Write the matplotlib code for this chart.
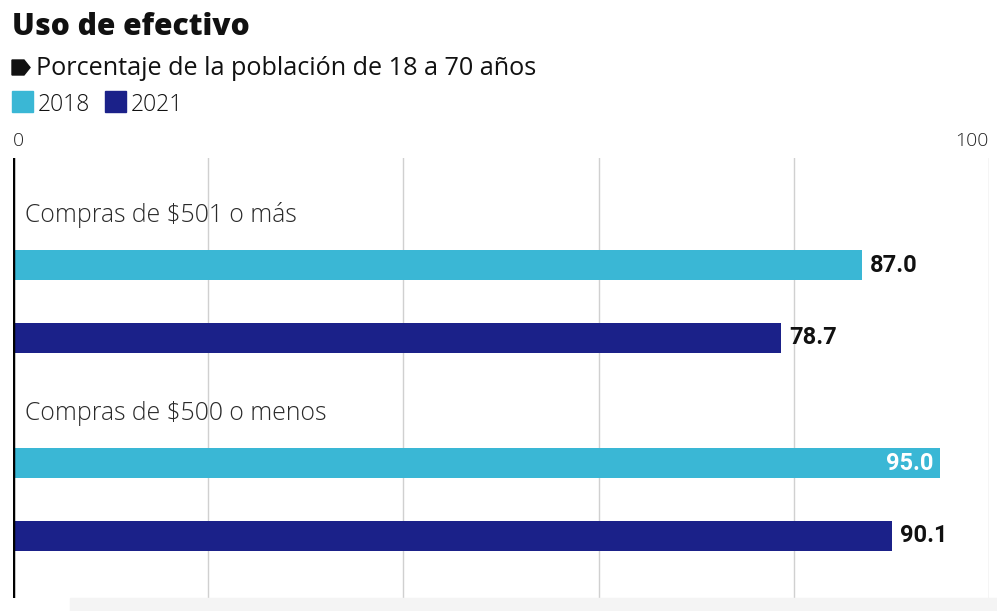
import matplotlib
matplotlib.use("Agg")
import matplotlib.pyplot as plt
from matplotlib.patches import Rectangle, Polygon

# Data
categories = ["Compras de $501 o más", "Compras de $500 o menos"]
years = ["2018", "2021"]
values_2018 = [87.0, 95.0]
values_2021 = [78.7, 90.1]

c2018 = "#3ab7d5"
c2021 = "#1b2189"

W, H = 997, 611
fig = plt.figure(figsize=(W / 100, H / 100), dpi=100)


def fx(px):
    return px / W


def fy(py):
    return 1 - py / H


# plot area in pixels
left, right, top, bottom = 13, 989, 158, 598
ax = fig.add_axes([fx(left), fy(bottom), fx(right - left), (bottom - top) / H])
ax.set_xlim(0, 100)
ax.set_ylim(bottom - top, 0)

# grid
for g in [20, 40, 60, 80, 100]:
    ax.axvline(g, color="#d0d0d0", lw=1, zorder=0)
ax.axvline(0, color="black", lw=2.5, zorder=3)

group_step = 198
label_off = 57
bar_off = [107, 180]
bar_h = 30

for i, cat in enumerate(categories):
    base = i * group_step
    ax.text(1.2, base + label_off, cat, fontsize=17.8, family="Open Sans",
            fontweight="light", color="#2a2a2a", va="center", ha="left")
    for j, (vals, col) in enumerate([(values_2018, c2018), (values_2021, c2021)]):
        y = base + bar_off[j]
        v = vals[i]
        ax.barh(y, v, height=bar_h, color=col, zorder=2)
        if v > 92:
            ax.text(v - 0.7, y, f"{v:.1f}", color="white", fontsize=17,
                    family="Roboto", fontweight="bold", va="center", ha="right", zorder=4)
        else:
            ax.text(v + 0.8, y, f"{v:.1f}", color="#111111", fontsize=17,
                    family="Roboto", fontweight="bold", va="center", ha="left", zorder=4)

for s in ax.spines.values():
    s.set_visible(False)
ax.set_yticks([])
ax.xaxis.tick_top()
ax.set_xticks([0, 100])
ax.set_xticklabels(["0", "100"], fontsize=14, family="Open Sans",
                   fontweight="light", color="#222222")
ax.tick_params(axis="x", length=0, pad=6)
labs = ax.get_xticklabels()
labs[0].set_ha("left")
labs[1].set_ha("right")

# header
fig.text(fx(12), fy(35), "Uso de efectivo", fontsize=21.6, family="Open Sans",
         fontweight="heavy", color="#111111", va="baseline")
fig.patches.append(Polygon([[fx(12), fy(60)], [fx(24), fy(60)], [fx(30), fy(67.5)],
                            [fx(24), fy(75)], [fx(12), fy(75)]],
                           closed=True, transform=fig.transFigure, color="#111111"))
fig.text(fx(36), fy(75), "Porcentaje de la población de 18 a 70 años", fontsize=18.2,
         family="Open Sans", color="#111111", va="baseline")
legend_x = [12, 105]
for x0, yr, col in zip(legend_x, years, [c2018, c2021]):
    fig.patches.append(Rectangle((fx(x0), fy(112)), fx(21), 21 / H,
                                 transform=fig.transFigure, color=col))
    fig.text(fx(x0 + 26), fy(111), yr, fontsize=16.5, family="Open Sans",
             fontweight="light", color="#111111", va="baseline")

# light band at the bottom
fig.patches.append(Rectangle((fx(70), 0), 1 - fx(70), 13 / H,
                             transform=fig.transFigure, color="#f4f4f4", zorder=5))

fig.savefig("out.png", dpi=100)
